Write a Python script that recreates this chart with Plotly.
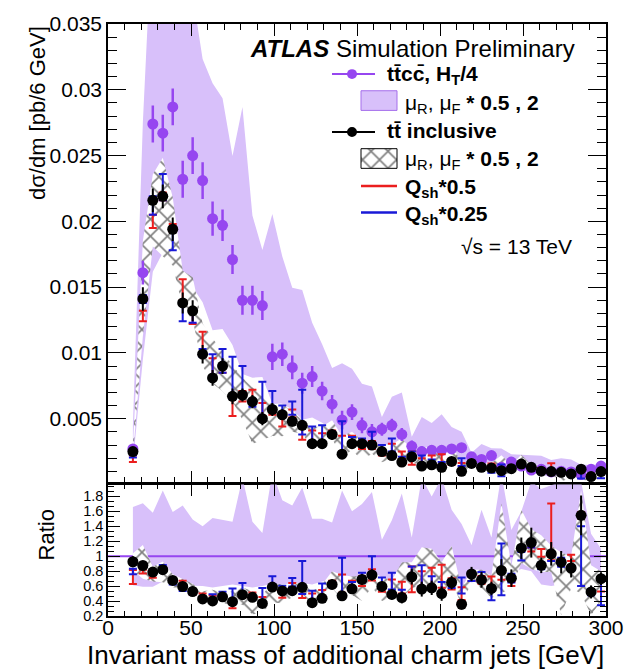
import plotly.graph_objects as go

# ---------------- data ----------------
mass = [15, 21, 27, 33, 39, 45, 51, 57, 63, 69, 75, 81, 87, 93, 99, 105,
        111, 117, 123, 129, 135, 141, 147, 153, 159, 165, 171, 177, 183, 189, 195, 201,
        207, 213, 219, 225, 231, 237, 243, 249, 255, 261, 267, 273, 279, 285, 291, 297]

ttcc = [0.0027, 0.0161, 0.0274, 0.0267, 0.0287, 0.0232, 0.0250, 0.0231, 0.0202, 0.0197,
        0.0171, 0.0140, 0.0140, 0.0136, 0.0097, 0.0099, 0.0089, 0.0077, 0.0082, 0.0071,
        0.0061, 0.0049, 0.0055, 0.0045, 0.0040, 0.0042, 0.0045, 0.0038, 0.0029, 0.0025,
        0.0026, 0.0026, 0.0027, 0.0028, 0.0021, 0.0019, 0.0022, 0.0013, 0.0017, 0.0014,
        0.0011, 0.00115, 0.00095, 0.0010, 0.00095, 0.00075, 0.00115, 0.0014]
ttcc_err = [0.0003, 0.0009, 0.0014, 0.0014, 0.0014, 0.0014, 0.0014, 0.0014, 0.0013, 0.0012,
            0.0011, 0.0011, 0.0011, 0.0011, 0.0010, 0.0009, 0.0009, 0.0008, 0.0008, 0.0007,
            0.0007, 0.0007, 0.0006, 0.0006, 0.0006, 0.0005, 0.0005, 0.0005, 0.00045, 0.0004,
            0.0004, 0.00037, 0.00035, 0.00035, 0.0003, 0.0003, 0.0003, 0.00025, 0.00025, 0.00025,
            0.0002, 0.0002, 0.0002, 0.0002, 0.0002, 0.0002, 0.0002, 0.0002]
# ttcc scale-variation envelope, relative to the ttcc nominal
ttcc_band_lo_ratio = [0.61, 0.59, 0.59, 0.66, 0.61, 0.60, 0.60, 0.60, 0.58, 0.60,
                      0.62, 0.60, 0.58, 0.60, 0.63, 0.62, 0.64, 0.64, 0.62, 0.66,
                      0.68, 0.68, 0.66, 0.62, 0.64, 0.60, 0.60, 0.62, 0.58, 0.60,
                      0.62, 0.60, 0.62, 0.60, 0.64, 0.62, 0.60, 0.66, 0.78, 0.83,
                      0.80, 0.62, 0.60, 0.62, 0.68, 0.70, 0.75, 0.72]
ttcc_band_hi_ratio = [1.66, 1.71, 1.58, 1.88, 1.59, 1.68, 1.49, 1.40, 1.51, 1.49,
                      1.46, 2.05, 1.46, 1.31, 2.12, 1.75, 1.68, 1.92, 1.50, 1.50,
                      1.45, 1.88, 1.60, 1.70, 1.86, 1.22, 1.48, 1.84, 1.25, 2.05,
                      1.80, 2.05, 1.62, 1.43, 1.15, 1.62, 1.25, 2.10, 1.35, 1.60,
                      2.00, 1.90, 1.95, 2.00, 2.00, 2.00, 1.30, 1.10]

tt = [0.0025, 0.0141, 0.0216, 0.0219, 0.0194, 0.0138, 0.0132, 0.0099, 0.0081, 0.0090,
      0.0067, 0.0068, 0.0063, 0.0050, 0.0057, 0.0053, 0.0048, 0.0045, 0.0031, 0.0031,
      0.0038, 0.0023, 0.0031, 0.0031, 0.0030, 0.0025, 0.0022, 0.0017, 0.0021, 0.0014,
      0.0015, 0.0013, 0.00175, 0.0010, 0.0016, 0.0013, 0.00125, 0.00105, 0.0012, 0.00155,
      0.0013, 0.00101, 0.00098, 0.00092, 0.0008, 0.00116, 0.0006, 0.00098]
tt_err = [0.0002, 0.0009, 0.0009, 0.0009, 0.0009, 0.0008, 0.0008, 0.0007, 0.0006, 0.0006,
          0.0006, 0.0005, 0.0005, 0.0005, 0.0005, 0.0004, 0.0004, 0.0004, 0.0004, 0.0004,
          0.0004, 0.0003, 0.0003, 0.0003, 0.0003, 0.0003, 0.0003, 0.0003, 0.0003, 0.00025,
          0.00025, 0.00025, 0.00025, 0.0002, 0.0002, 0.0002, 0.0002, 0.0002, 0.0002, 0.0002,
          0.00022, 0.00012, 0.00015, 0.00015, 0.00012, 0.0002, 0.0001, 0.00012]
# tt inclusive scale-variation envelope, relative to the ttcc nominal
tt_hatch_lo_ratio = [0.81, 0.70, 0.66, 0.65, 0.58, 0.58, 0.50, 0.39, 0.38, 0.36,
                     0.37, 0.35, 0.22, 0.25, 0.38, 0.37, 0.45, 0.50, 0.34, 0.40,
                     0.57, 0.42, 0.48, 0.40, 0.59, 0.40, 0.44, 0.45, 0.57, 0.62,
                     0.57, 0.50, 0.66, 0.35, 0.65, 0.57, 0.44, 0.50, 0.57, 0.91,
                     0.83, 0.79, 0.79, 0.21, 0.57, 0.50, 0.21, 0.40]
tt_hatch_hi_ratio = [1.04, 1.15, 0.86, 0.93, 0.76, 0.70, 0.63, 0.53, 0.55, 0.51,
                     0.53, 0.58, 0.53, 0.49, 0.63, 0.62, 0.62, 0.64, 0.53, 0.62,
                     0.80, 0.75, 0.73, 0.74, 0.80, 0.72, 0.68, 0.92, 0.92, 1.12,
                     1.10, 0.92, 1.14, 0.57, 0.82, 0.82, 0.74, 1.71, 0.87, 1.62,
                     1.36, 1.28, 1.14, 1.05, 1.00, 1.88, 0.88, 0.80]

qsh05 = [0.00195, 0.0128, 0.0200, 0.0219, 0.0195, 0.0148, 0.0127, 0.0108, 0.0089, 0.0088,
         0.0060, 0.0067, 0.0067, 0.0057, 0.0055, 0.0048, 0.0054, 0.0039, 0.0036, 0.0035,
         0.0039, 0.0031, 0.0034, 0.0030, 0.0030, 0.0024, 0.0027, 0.0022, 0.0020, 0.0017,
         0.0019, 0.0019, 0.0017, 0.0014, 0.0015, 0.0013, 0.0014, 0.00099, 0.00107, 0.00154,
         0.0012, 0.0012, 0.00126, 0.0009, 0.00093, 0.00116, 0.0006, 0.00084]
qsh05_err = [0.00025, 0.0004, 0.0005, 0.0003, 0.0003, 0.0008, 0.0005, 0.0008, 0.0007, 0.0003,
             0.0008, 0.0004, 0.0005, 0.0005, 0.0002, 0.0004, 0.0003, 0.0005, 0.0005, 0.0004,
             0.0002, 0.0006, 0.0003, 0.0003, 0.0003, 0.0002, 0.0004, 0.0003, 0.0005, 0.0003,
             0.0003, 0.0004, 0.0002, 0.00024, 0.0001, 0.0001, 0.0002, 0.0001, 0.00005, 0.00003,
             0.00003, 0.00006, 0.00036, 0.00003, 0.00004, 0.00003, 0.00003, 0.0001]
qsh025 = [0.00215, 0.0141, 0.0212, 0.0226, 0.0186, 0.0131, 0.0128, 0.0100, 0.0090, 0.0094,
          0.0081, 0.0079, 0.0062, 0.0064, 0.0064, 0.0057, 0.0058, 0.0055, 0.0038, 0.0038,
          0.0038, 0.0036, 0.0033, 0.0032, 0.0035, 0.0027, 0.0030, 0.0019, 0.0023, 0.0018,
          0.0017, 0.0015, 0.0017, 0.0017, 0.0015, 0.0014, 0.0011, 0.00107, 0.0012, 0.0014,
          0.00125, 0.0010, 0.00092, 0.00092, 0.0008, 0.00075, 0.00058, 0.00073]
qsh025_err = [0.0001, 0.0003, 0.0007, 0.0010, 0.0008, 0.0007, 0.0005, 0.0003, 0.0009, 0.0009,
              0.0016, 0.0011, 0.0003, 0.0014, 0.0007, 0.0003, 0.0005, 0.0017, 0.0006, 0.0007,
              0.0002, 0.0012, 0.0003, 0.0003, 0.0005, 0.0003, 0.0005, 0.0002, 0.0002, 0.0004,
              0.0002, 0.0002, 0.00015, 0.0003, 0.0001, 0.0001, 0.0002, 0.00045, 0.0001, 0.00008,
              0.00002, 0.00005, 0.00003, 0.00006, 0.00003, 0.0003, 0.00003, 0.00025]

x_range = [0, 300]
x_ticks = [0, 50, 100, 150, 200, 250, 300]
y_main_range = [0.00015, 0.035]
main_yticks = [0.005, 0.01, 0.015, 0.02, 0.025, 0.03, 0.035]
main_yticktext = ["0.005", "0.01", "0.015", "0.02", "0.025", "0.03", "0.035"]
y_ratio_range = [0.2, 1.96]
ratio_yticks = [0.2, 0.4, 0.6, 0.8, 1.0, 1.2, 1.4, 1.6, 1.8]
ratio_yticktext = ["0.2", "0.4", "0.6", "0.8", "1", "1.2", "1.4", "1.6", "1.8"]

# ---------------- styles ----------------
FONT = "Liberation Sans, Arial, sans-serif"
PURPLE = "rgb(150,70,240)"
BAND = "rgb(216,192,250)"
RED = "rgb(235,30,30)"
BLUE = "rgb(25,25,215)"

def poly(lo, hi):
    return mass + mass[::-1], hi + lo[::-1]

band_lo = [r * c for r, c in zip(ttcc_band_lo_ratio, ttcc)]
band_hi = [r * c for r, c in zip(ttcc_band_hi_ratio, ttcc)]
hatch_lo = [r * c for r, c in zip(tt_hatch_lo_ratio, ttcc)]
hatch_hi = [r * c for r, c in zip(tt_hatch_hi_ratio, ttcc)]

hatch_pattern = dict(shape="x", fgcolor="black", bgcolor="white", size=12, solidity=0.25)

fig = go.Figure()

# ---- main panel ----
bx, by = poly(band_lo, band_hi)
fig.add_trace(go.Scatter(x=bx, y=by, fill="toself", fillcolor=BAND, line=dict(width=0),
                         mode="lines", xaxis="x", yaxis="y", hoverinfo="skip"))
hx, hy = poly(hatch_lo, hatch_hi)
fig.add_trace(go.Scatter(x=hx, y=hy, fill="toself", fillcolor="white", fillpattern=hatch_pattern,
                         line=dict(width=0), mode="lines", xaxis="x", yaxis="y", hoverinfo="skip"))
fig.add_trace(go.Scatter(x=mass, y=ttcc, mode="markers", xaxis="x", yaxis="y",
                         marker=dict(color=PURPLE, size=11),
                         error_y=dict(type="data", array=ttcc_err, color=PURPLE, thickness=2.5, width=0)))
fig.add_trace(go.Scatter(x=mass, y=qsh05, mode="markers", xaxis="x", yaxis="y",
                         marker=dict(color="rgba(0,0,0,0)", size=1),
                         error_y=dict(type="data", array=qsh05_err, color=RED, thickness=2, width=4)))
fig.add_trace(go.Scatter(x=mass, y=qsh025, mode="markers", xaxis="x", yaxis="y",
                         marker=dict(color="rgba(0,0,0,0)", size=1),
                         error_y=dict(type="data", array=qsh025_err, color=BLUE, thickness=2, width=4)))
fig.add_trace(go.Scatter(x=mass, y=tt, mode="markers", xaxis="x", yaxis="y",
                         marker=dict(color="black", size=11),
                         error_y=dict(type="data", array=tt_err, color="black", thickness=2, width=0)))

# ---- ratio panel ----
rbx, rby = poly(ttcc_band_lo_ratio, ttcc_band_hi_ratio)
fig.add_trace(go.Scatter(x=rbx, y=rby, fill="toself", fillcolor=BAND, line=dict(width=0),
                         mode="lines", xaxis="x2", yaxis="y2", hoverinfo="skip"))
fig.add_trace(go.Scatter(x=x_range, y=[1, 1], mode="lines", line=dict(color=PURPLE, width=2),
                         xaxis="x2", yaxis="y2", hoverinfo="skip"))
rhx, rhy = poly(tt_hatch_lo_ratio, tt_hatch_hi_ratio)
fig.add_trace(go.Scatter(x=rhx, y=rhy, fill="toself", fillcolor="white", fillpattern=hatch_pattern,
                         line=dict(width=0), mode="lines", xaxis="x2", yaxis="y2", hoverinfo="skip"))
for val, err, col in [(qsh05, qsh05_err, RED), (qsh025, qsh025_err, BLUE)]:
    fig.add_trace(go.Scatter(x=mass, y=[v / c for v, c in zip(val, ttcc)], mode="markers",
                             xaxis="x2", yaxis="y2", marker=dict(color="rgba(0,0,0,0)", size=1),
                             error_y=dict(type="data", array=[e / c for e, c in zip(err, ttcc)],
                                          color=col, thickness=2, width=4)))
fig.add_trace(go.Scatter(x=mass, y=[v / c for v, c in zip(tt, ttcc)], mode="markers",
                         xaxis="x2", yaxis="y2", marker=dict(color="black", size=11),
                         error_y=dict(type="data", array=[e / c for e, c in zip(tt_err, ttcc)],
                                      color="black", thickness=2, width=0)))

# ---- legend (drawn on an overlay axis in pixel units) ----
fig.add_trace(go.Scatter(x=[361, 397, 397, 361, 361], y=[140, 140, 160, 160, 140], fill="toself",
                         fillcolor="white", fillpattern=hatch_pattern, mode="lines",
                         line=dict(color="black", width=1), xaxis="x3", yaxis="y3", hoverinfo="skip"))

shapes = [
    dict(type="line", xref="x3", yref="y3", x0=332, x1=375, y0=64, y1=64, line=dict(color=PURPLE, width=2)),
    dict(type="circle", xref="x3", yref="y3", x0=347, x1=357, y0=59, y1=69, fillcolor=PURPLE, line=dict(width=0)),
    dict(type="rect", xref="x3", yref="y3", x0=361, x1=397, y0=81, y1=101, fillcolor=BAND,
         line=dict(color="rgb(165,110,235)", width=1)),
    dict(type="line", xref="x3", yref="y3", x0=332, x1=375, y0=123, y1=123, line=dict(color="black", width=2)),
    dict(type="circle", xref="x3", yref="y3", x0=347, x1=357, y0=118, y1=128, fillcolor="black", line=dict(width=0)),
    dict(type="line", xref="x3", yref="y3", x0=361, x1=397, y0=178, y1=178, line=dict(color=RED, width=2.5)),
    dict(type="line", xref="x3", yref="y3", x0=361, x1=397, y0=205, y1=205, line=dict(color=BLUE, width=2.5)),
]

def px(xp):
    return (xp - 108) / 498.0

def py(yp):
    return (616 - yp) / 603.0

annotations = [
    dict(x=px(248), y=py(38), xref="paper", yref="paper", xanchor="left", yanchor="middle",
         text="<b><i>ATLAS</i></b> Simulation Preliminary", showarrow=False, font=dict(size=24)),
    dict(x=px(385), y=py(65), xref="paper", yref="paper", xanchor="left", yanchor="middle",
         text="<b>tt\u0304cc\u0304, H<sub>T</sub>/4</b>", showarrow=False, font=dict(size=21)),
    dict(x=px(403), y=py(94), xref="paper", yref="paper", xanchor="left", yanchor="middle",
         text="\u03bc<sub>R</sub>, \u03bc<sub>F</sub> <b>* 0.5 , 2</b>", showarrow=False, font=dict(size=21)),
    dict(x=px(385), y=py(121), xref="paper", yref="paper", xanchor="left", yanchor="middle",
         text="<b>tt\u0304 inclusive</b>", showarrow=False, font=dict(size=21)),
    dict(x=px(403), y=py(152), xref="paper", yref="paper", xanchor="left", yanchor="middle",
         text="\u03bc<sub>R</sub>, \u03bc<sub>F</sub> <b>* 0.5 , 2</b>", showarrow=False, font=dict(size=21)),
    dict(x=px(403), y=py(180), xref="paper", yref="paper", xanchor="left", yanchor="middle",
         text="<b>Q<sub>sh</sub>*0.5</b>", showarrow=False, font=dict(size=21)),
    dict(x=px(403), y=py(208), xref="paper", yref="paper", xanchor="left", yanchor="middle",
         text="<b>Q<sub>sh</sub>*0.25</b>", showarrow=False, font=dict(size=21)),
    dict(x=px(574), y=py(240), xref="paper", yref="paper", xanchor="right", yanchor="middle",
         text="\u221as = 13 TeV", showarrow=False, font=dict(size=21)),
    dict(x=1.0, y=py(656), xref="paper", yref="paper", xanchor="right", yanchor="middle",
         text="Invariant mass of additional charm jets [GeV]", showarrow=False, font=dict(size=26)),
    dict(x=px(37), y=1.0, xref="paper", yref="paper", xanchor="center", yanchor="top", textangle=-90,
         text="d\u03c3/dm [pb/6 GeV]", showarrow=False, font=dict(size=22)),
    dict(x=px(46), y=py(534), xref="paper", yref="paper", xanchor="center", yanchor="middle", textangle=-90,
         text="Ratio", showarrow=False, font=dict(size=22)),
]

axis_common = dict(showgrid=False, zeroline=False, showline=True, linecolor="black", linewidth=1.5,
                   mirror="ticks", ticks="inside", tickcolor="black", tickwidth=1)

fig.update_layout(
    width=642, height=669,
    margin=dict(l=108, r=36, t=13, b=53),
    paper_bgcolor="white", plot_bgcolor="white",
    showlegend=False,
    font=dict(family=FONT, color="black"),
    xaxis=dict(domain=[0, 1], range=x_range, anchor="y", tickvals=x_ticks, showticklabels=False,
               ticklen=12, minor=dict(dtick=10, ticklen=6, ticks="inside", tickcolor="black"),
               **axis_common),
    yaxis=dict(domain=[0.2255, 1], range=y_main_range, anchor="x", tickvals=main_yticks,
               ticktext=main_yticktext, ticklen=18, tickfont=dict(size=21),
               minor=dict(dtick=0.001, tick0=0, ticklen=9, ticks="inside", tickcolor="black"),
               **axis_common),
    xaxis2=dict(domain=[0, 1], range=x_range, anchor="y2", tickvals=x_ticks, tickfont=dict(size=21),
                ticklen=12, ticklabelstandoff=-8,
                minor=dict(dtick=10, ticklen=5, ticks="inside", tickcolor="black"),
                **axis_common),
    yaxis2=dict(domain=[0, 0.2222], range=y_ratio_range, anchor="x2", tickvals=ratio_yticks,
                ticktext=ratio_yticktext, ticklen=12, tickfont=dict(size=14.5),
                minor=dict(dtick=0.2 / 3, tick0=0.2, ticklen=6, ticks="inside", tickcolor="black"),
                **axis_common),
    xaxis3=dict(overlaying="x", range=[108, 606], visible=False, anchor="y3"),
    yaxis3=dict(overlaying="y", range=[480, 13], visible=False, anchor="x3"),
    shapes=shapes,
    annotations=annotations,
)

fig.write_html("out.html")
